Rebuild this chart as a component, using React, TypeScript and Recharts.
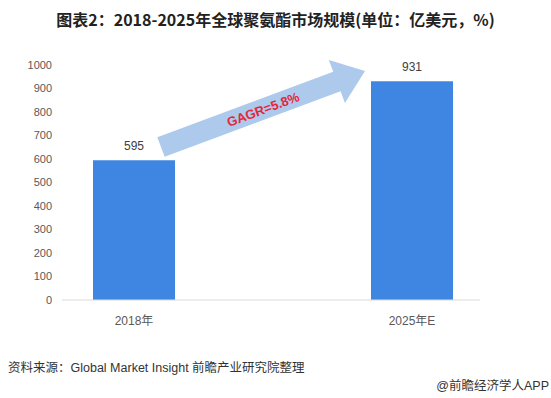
import { BarChart, Bar, XAxis, YAxis, LabelList } from 'recharts';

const categories = ['2018年', '2025年E'];
const marketSize = [595, 931];
const yTicks = [0, 100, 200, 300, 400, 500, 600, 700, 800, 900, 1000];
const cagrLabel = 'GAGR=5.8%';

const chartData = categories.map((name, i) => ({ name, value: marketSize[i] }));

const FONT = '"Liberation Sans", "Noto Sans CJK SC", Arial, sans-serif';
const BAR_COLOR = '#3f86e3';

function GrowthArrow() {
  // annotation arrow drawn over the plot
  const x0 = 161, y0 = 147, x1 = 365, y1 = 71;
  const dx = x1 - x0, dy = y1 - y0;
  const len = Math.sqrt(dx * dx + dy * dy);
  const angle = (Math.atan2(dy, dx) * 180) / Math.PI;
  const shaft = 10.5, head = 23, headLen = 30;
  const pts = [
    [0, -shaft], [len - headLen, -shaft], [len - headLen, -head], [len, 0],
    [len - headLen, head], [len - headLen, shaft], [0, shaft],
  ].map(p => p.join(',')).join(' ');
  return (
    <svg width={551} height={398} style={{ position: 'absolute', left: 0, top: 0, pointerEvents: 'none' }}>
      <g transform={`translate(${x0},${y0}) rotate(${angle})`}>
        <polygon points={pts} fill="#a4c3ea" fillOpacity={0.9} />
        <text x={len * 0.5} y={5} textAnchor="middle" fill="#e5263a" fontSize={13} fontWeight="bold" fontFamily={FONT}>
          {cagrLabel}
        </text>
      </g>
    </svg>
  );
}

export default function App() {
  return (
    <div style={{ position: 'absolute', left: 0, top: 0, width: 551, height: 398, background: '#fff', fontFamily: FONT }}>
      <div style={{ position: 'absolute', top: 8, left: 0, width: 551, textAlign: 'center', fontSize: 16, lineHeight: '22px', fontWeight: 'bold', color: '#222', fontFamily: '"Noto Sans CJK SC", sans-serif' }}>
        图表2：2018-2025年全球聚氨酯市场规模(单位：亿美元，%)
      </div>
      <BarChart width={551} height={340} data={chartData} margin={{ top: 65, right: 71, bottom: 10, left: 0 }}>
        <XAxis
          dataKey="name"
          padding={{ left: -67, right: -71 }}
          tickLine={false}
          axisLine={{ stroke: '#d9d9d9' }}
          tick={{ fill: '#595959', fontSize: 12, fontFamily: FONT }}
          tickMargin={10}
          height={30}
        />
        <YAxis
          domain={[0, 1000]}
          ticks={yTicks}
          interval={0}
          axisLine={false}
          tickLine={false}
          tickSize={0}
          tickMargin={10}
          width={62}
          tick={{ fill: '#595959', fontSize: 11, fontFamily: FONT }}
        />
        <Bar dataKey="value" fill={BAR_COLOR} barSize={82} isAnimationActive={false}>
          <LabelList dataKey="value" position="top" offset={10} fill="#404040" fontSize={12} fontFamily={FONT} />
        </Bar>
      </BarChart>
      <GrowthArrow />
      <div style={{ position: 'absolute', left: 8, top: 357, fontSize: 12.5, color: '#333', fontFamily: FONT }}>
        资料来源：Global Market Insight 前瞻产业研究院整理
      </div>
      <div style={{ position: 'absolute', right: 2, top: 375, fontSize: 12.5, color: '#333', fontFamily: FONT }}>
        @前瞻经济学人APP
      </div>
    </div>
  );
}
